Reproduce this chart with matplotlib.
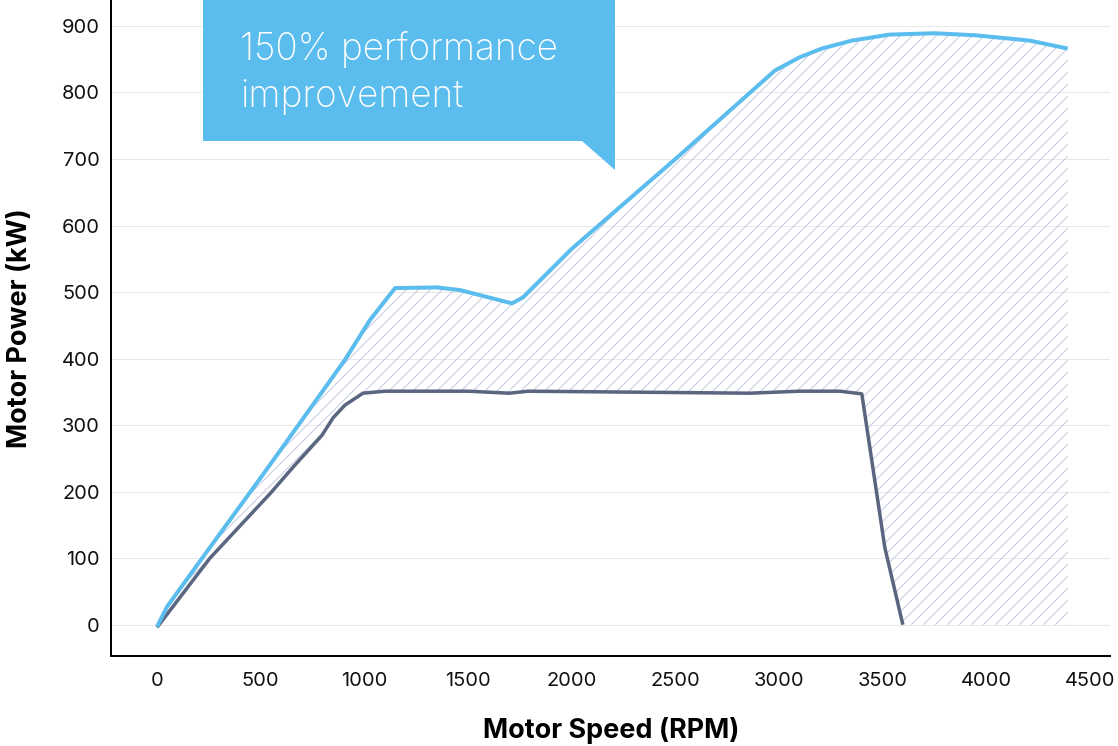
import numpy as np
import matplotlib.pyplot as plt
from matplotlib.patches import Polygon

# new motor (light blue) power curve
new_rpm = [0, 48, 250, 500, 700, 906, 1027, 1148, 1350, 1461, 1600, 1712, 1765,
           2000, 2500, 2980, 3100, 3206, 3351, 3534, 3751, 3944, 4209, 4392]
new_kw = [-3, 27, 114, 221, 308, 398, 458, 506, 507, 503, 492, 483, 492,
          565, 700, 833, 853, 866, 878, 887, 889, 886, 878, 866]

# old motor (dark) power curve
old_rpm = [0, 255, 545, 665, 796, 849, 906, 993, 1099, 1500, 1700, 1789,
           2859, 3100, 3293, 3399, 3510, 3597]
old_kw = [-4, 100, 197, 240, 285, 311, 330, 348, 351, 351, 348, 351,
          348, 351, 351, 347, 116, 0]

y_ticks = [0, 100, 200, 300, 400, 500, 600, 700, 800, 900]
x_ticks = [0, 500, 1000, 1500, 2000, 2500, 3000, 3500, 4000, 4500]

LIGHT = "#5BBCEE"
DARK = "#5A6580"

DPI = 144
plt.rcParams["font.family"] = ["Inter", "DejaVu Sans"]
plt.rcParams["hatch.linewidth"] = 0.5

fig = plt.figure(figsize=(1118 / DPI, 746 / DPI), dpi=DPI)
ax = fig.add_axes([111 / 1118, 90 / 746, 999 / 1118, 656 / 746])

# hatched area between the two curves
xs = np.linspace(0, max(new_rpm), 600)
upper = np.interp(xs, new_rpm, new_kw)
lower = np.interp(xs, old_rpm, old_kw, right=0)
ax.fill_between(xs, lower, upper, facecolor="none", edgecolor="#C5CBE3",
                linewidth=0, hatch="////", zorder=1)

ax.plot(old_rpm, old_kw, color=DARK, lw=1.75, zorder=3, solid_capstyle="butt")
ax.plot(new_rpm, new_kw, color=LIGHT, lw=2.0, zorder=4, solid_capstyle="butt")

ax.set_xlim(-222, 4596)
ax.set_ylim(-47, 939)
ax.set_xticks(x_ticks)
ax.set_yticks(y_ticks)
ax.tick_params(length=0, labelsize=10, colors="#111111")
ax.tick_params(axis="x", pad=8)
ax.tick_params(axis="y", pad=5.5)
ax.grid(axis="y", color="#E8E8E8", lw=0.5)
ax.set_axisbelow(True)
for s in ["top", "right"]:
    ax.spines[s].set_visible(False)
for s in ["left", "bottom"]:
    ax.spines[s].set_linewidth(1.0)

fig.text(611 / 1118, 1 - 730 / 746, "Motor Speed (RPM)", ha="center", va="center",
         fontsize=13.5, fontweight="bold")
fig.text(20 / 1118, 1 - 328 / 746, "Motor Power (kW)", ha="center", va="center",
         rotation=90, fontsize=13.5, fontweight="bold")

# callout box
W, H = 1118, 746
box = [(203, -5), (615, -5), (615, 170), (582, 141), (203, 141)]
fig.patches.append(Polygon([(x / W, 1 - y / H) for x, y in box], closed=True,
                           transform=fig.transFigure, facecolor=LIGHT,
                           edgecolor="none", zorder=5))
fig.text(240 / W, 1 - 60 / H, "150% performance", color="white", fontsize=18.5,
         fontweight="light", va="baseline", zorder=6)
fig.text(240 / W, 1 - 107 / H, "improvement", color="white", fontsize=18.5,
         fontweight="light", va="baseline", zorder=6)

fig.savefig("out.png", dpi=DPI)
